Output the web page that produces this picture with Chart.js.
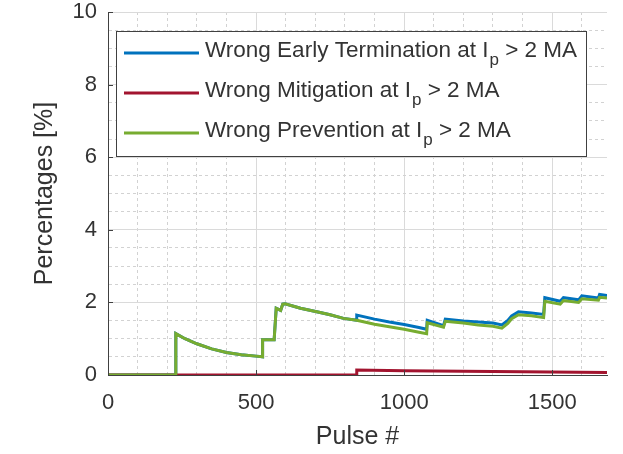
<!DOCTYPE html>
<html>
<head>
<meta charset="utf-8">
<script src="https://cdn.jsdelivr.net/npm/chart.js@4"></script>
<style>
  body { margin: 0; background: #fff; }
  #wrap { width: 623px; height: 454px; }
</style>
</head>
<body>
<div id="wrap"><canvas id="pulseChart"></canvas></div>
<script>
const xMax = 1685;
const xTickLabels = [0, 500, 1000, 1500];
const yTickLabels = [0, 2, 4, 6, 8, 10];

// wrong early termination
const termPulse = [0, 229, 229, 260, 300, 350, 400, 450, 500, 522, 522, 561, 568, 583, 590, 598, 650, 705, 750, 795,
  840, 840, 900, 950, 1000, 1050, 1076, 1078, 1133, 1139, 1200, 1250, 1300, 1330, 1350, 1363, 1386, 1430, 1471,
  1475, 1527, 1538, 1589, 1600, 1656, 1660, 1685];
const termPct = [0, 0, 1.14, 1.0, 0.86, 0.72, 0.62, 0.56, 0.52, 0.50, 0.97, 0.97, 1.84, 1.78, 1.95, 1.96, 1.84, 1.74, 1.66, 1.56,
  1.51, 1.65, 1.54, 1.46, 1.39, 1.31, 1.26, 1.51, 1.36, 1.54, 1.49, 1.46, 1.43, 1.38, 1.50, 1.63, 1.74, 1.71, 1.67,
  2.13, 2.03, 2.13, 2.07, 2.18, 2.12, 2.22, 2.19];

// wrong mitigation
const mitPulse = [0, 840, 840, 1000, 1200, 1400, 1685];
const mitPct = [0, 0, 0.14, 0.12, 0.10, 0.09, 0.07];

// wrong prevention
const prevPulse = [0, 229, 229, 260, 300, 350, 400, 450, 500, 522, 522, 561, 568, 583, 590, 598, 650, 705, 750, 795,
  840, 900, 950, 1000, 1050, 1076, 1078, 1133, 1139, 1200, 1250, 1300, 1330, 1350, 1363, 1386, 1430, 1471,
  1475, 1527, 1538, 1589, 1600, 1656, 1660, 1685];
const prevPct = [0, 0, 1.14, 1.0, 0.86, 0.72, 0.62, 0.56, 0.52, 0.50, 0.97, 0.97, 1.84, 1.78, 1.95, 1.96, 1.84, 1.74, 1.66, 1.56,
  1.51, 1.40, 1.33, 1.26, 1.18, 1.14, 1.44, 1.32, 1.48, 1.43, 1.38, 1.34, 1.29, 1.42, 1.55, 1.66, 1.63, 1.58,
  2.03, 1.95, 2.05, 2.00, 2.10, 2.06, 2.14, 2.12];

const seriesNames = ["Wrong Early Termination at", "Wrong Mitigation at", "Wrong Prevention at"];
const seriesColors = ["#0072BD", "#A2142F", "#77AC30"];

const FONT = "'Liberation Sans', Arial, sans-serif";
const TEXT = "#333333";
const AXIS = "#404040";

function toPoints(xs, ys) {
  return xs.map((x, i) => ({ x: x, y: ys[i] }));
}

// short tick marks pointing into the plot area
const innerTicks = {
  id: "innerTicks",
  afterDraw(chart) {
    const { ctx, chartArea, scales } = chart;
    ctx.save();
    ctx.strokeStyle = AXIS;
    ctx.lineWidth = 1;
    ctx.beginPath();
    xTickLabels.forEach(v => {
      const px = Math.round(scales.x.getPixelForValue(v)) + 0.5;
      ctx.moveTo(px, chartArea.bottom);
      ctx.lineTo(px, chartArea.bottom - 5);
    });
    yTickLabels.forEach(v => {
      const py = Math.round(scales.y.getPixelForValue(v)) + 0.5;
      ctx.moveTo(chartArea.left, py);
      ctx.lineTo(chartArea.left + 5, py);
    });
    ctx.stroke();
    ctx.restore();
  }
};

// boxed legend with the I_p subscript
const legendBox = {
  id: "legendBox",
  afterDraw(chart) {
    const { ctx, chartArea } = chart;
    const left = chartArea.left + 8;
    const top = chartArea.top + 19;
    const textX = left + 89;
    const mainFont = "22.5px " + FONT;
    const subFont = "17px " + FONT;
    ctx.save();
    const widthOf = name => {
      ctx.font = mainFont;
      let w = ctx.measureText(name + " I").width;
      ctx.font = subFont;
      w += ctx.measureText("p").width;
      ctx.font = mainFont;
      w += ctx.measureText(" > 2 MA").width;
      return w;
    };
    const maxW = Math.max(...seriesNames.map(widthOf));
    const boxW = textX - left + maxW + 10;
    const boxH = 125;
    ctx.fillStyle = "#ffffff";
    ctx.fillRect(left, top, boxW, boxH);
    ctx.strokeStyle = AXIS;
    ctx.lineWidth = 1;
    ctx.strokeRect(Math.round(left) + 0.5, Math.round(top) + 0.5, Math.round(boxW), boxH);
    seriesNames.forEach((name, i) => {
      const rowY = top + 22 + i * 40;
      ctx.strokeStyle = seriesColors[i];
      ctx.lineWidth = 3;
      ctx.beginPath();
      ctx.moveTo(left + 8, rowY);
      ctx.lineTo(left + 83, rowY);
      ctx.stroke();
      ctx.fillStyle = TEXT;
      ctx.textBaseline = "alphabetic";
      const base = rowY + 4;
      let x = textX;
      ctx.font = mainFont;
      const head = name + " I";
      ctx.fillText(head, x, base);
      x += ctx.measureText(head).width;
      ctx.font = subFont;
      ctx.fillText("p", x + 1, base + 8);
      x += ctx.measureText("p").width + 1;
      ctx.font = mainFont;
      ctx.fillText(" > 2 MA", x, base);
    });
    ctx.restore();
  }
};

const ctx = document.getElementById("pulseChart");

new Chart(ctx, {
  type: "line",
  data: {
    datasets: [
      {
        label: seriesNames[2] + " Ip > 2 MA",
        data: toPoints(prevPulse, prevPct),
        borderColor: seriesColors[2],
        order: 0,
      },
      {
        label: seriesNames[1] + " Ip > 2 MA",
        data: toPoints(mitPulse, mitPct),
        borderColor: seriesColors[1],
        order: 1,
      },
      {
        label: seriesNames[0] + " Ip > 2 MA",
        data: toPoints(termPulse, termPct),
        borderColor: seriesColors[0],
        order: 2,
      },
    ],
  },
  options: {
    responsive: true,
    maintainAspectRatio: false,
    animation: false,
    layout: { padding: { top: 12, right: 16, bottom: 0, left: 0 } },
    elements: {
      point: { radius: 0 },
      line: { borderWidth: 3, tension: 0 },
    },
    plugins: {
      legend: { display: false },
      tooltip: { enabled: false },
    },
    scales: {
      x: {
        type: "linear",
        min: 0,
        max: xMax,
        afterFit(scale) { scale.height = 79; },
        ticks: {
          stepSize: 100,
          includeBounds: false,
          autoSkip: false,
          maxRotation: 0,
          padding: 17,
          color: TEXT,
          font: { family: FONT, size: 22, lineHeight: 1 },
          callback: v => (v % 500 === 0 ? v : ""),
        },
        grid: {
          drawTicks: false,
          color: c => (c.tick && c.tick.value % 500 === 0 ? "#dadada" : "#d2d2d2"),
        },
        border: {
          color: AXIS,
          width: 1,
          dash: c => (c.tick && c.tick.value % 500 !== 0 ? [3, 3] : []),
        },
        title: {
          display: true,
          text: "Pulse #",
          color: TEXT,
          font: { family: FONT, size: 25, lineHeight: 1.2 },
          padding: { top: 0, bottom: 2 },
        },
      },
      y: {
        min: 0,
        max: 10,
        afterFit(scale) {
          scale.width = 108;
          // the "10" label may sit right at the canvas top margin
          scale.paddingTop = 0;
          scale.paddingBottom = 0;
        },
        ticks: {
          stepSize: 0.5,
          autoSkip: false,
          padding: 11,
          color: TEXT,
          font: { family: FONT, size: 22, lineHeight: 1 },
          callback: v => (v % 2 === 0 ? v : ""),
        },
        grid: {
          drawTicks: false,
          color: c => (c.tick && c.tick.value % 2 === 0 ? "#dadada" : "#d2d2d2"),
        },
        border: {
          color: AXIS,
          width: 1,
          dash: c => (c.tick && c.tick.value % 2 !== 0 ? [3, 3] : []),
        },
        title: {
          display: true,
          text: "Percentages [%]",
          color: TEXT,
          font: { family: FONT, size: 25, lineHeight: 1.2 },
          padding: { top: 30, bottom: 0 },
        },
      },
    },
  },
  plugins: [innerTicks, legendBox],
});
</script>
</body>
</html>
